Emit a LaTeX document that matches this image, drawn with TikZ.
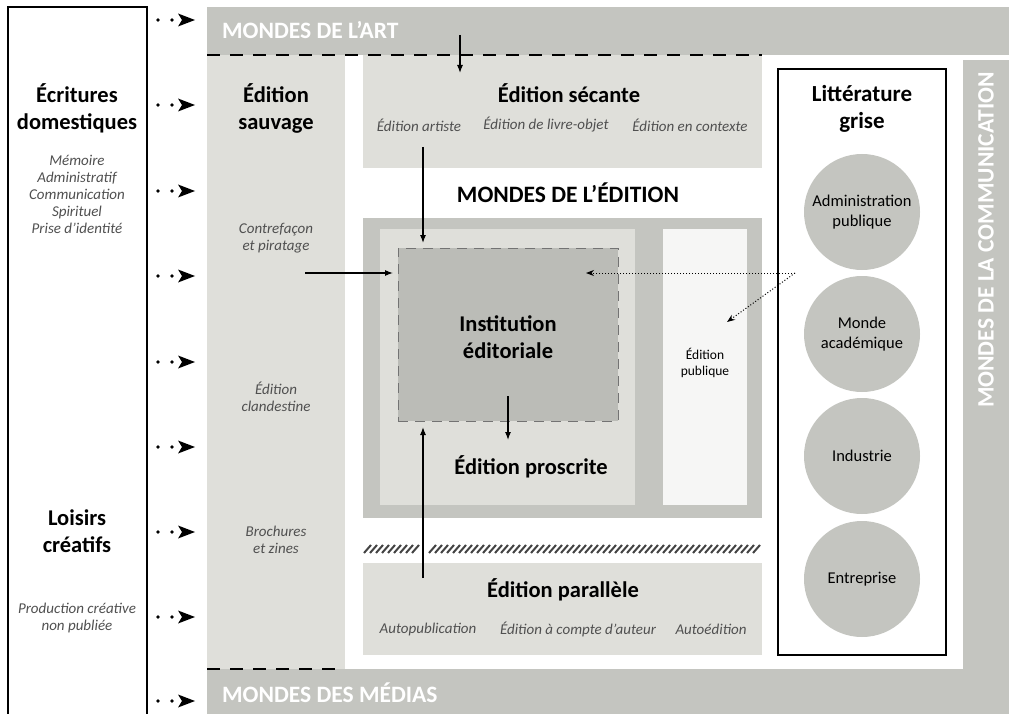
\documentclass[tikz,border=0pt]{standalone}
\usepackage{fontspec}
\setmainfont{Carlito}
\usetikzlibrary{arrows.meta,calc}
\definecolor{band}{HTML}{C4C5C0}
\definecolor{lightg}{HTML}{DFDFDA}
\definecolor{instg}{HTML}{BBBCB7}
\definecolor{pubg}{HTML}{F6F6F5}
\definecolor{italg}{HTML}{505050}
\definecolor{hatchg}{HTML}{444444}
\begin{document}
\begin{tikzpicture}[x=1pt,y=-1pt,
  area/.style={draw=none, inner sep=0pt, outer sep=0pt, anchor=north west},
  bandtxt/.style={text=white, font=\fontsize{23.5}{26}\selectfont\bfseries, inner sep=0pt},
  title/.style={font=\fontsize{22.5}{27}\selectfont\bfseries, align=center, inner sep=0pt},
  sub/.style={font=\fontsize{15}{17}\selectfont\itshape, text=italg, align=center, inner sep=0pt},
  circ/.style={circle, fill=band, minimum size=116pt, inner sep=0pt, align=center, font=\fontsize{16.5}{20}\selectfont},
  arr/.style={draw=black, line width=1.1pt, -{Latex[length=8pt,width=6pt]}},
  dotarr/.style={draw=black, line width=1pt, dash pattern=on 1pt off 2pt, -{Stealth[length=8pt,width=6pt]}},
  worlddash/.style={draw=black, line width=1.6pt, dash pattern=on 13pt off 10pt},
  dotstep/.style={line width=3.8pt, line cap=round, dash pattern=on 0pt off 14pt},
  hatchline/.style={draw=hatchg, line width=2pt}
]
\useasboundingbox (0,0) rectangle (1009,714);
\fill[white] (0,0) rectangle (1009,714);

% world bands
\node[area, fill=band, minimum width=802pt, minimum height=48pt] (art) at (207,7) {};
\node[area, fill=band, minimum width=46pt, minimum height=610pt] (comm) at (963,60) {};
\node[area, fill=band, minimum width=802pt, minimum height=45pt] (medias) at (207,669) {};
\node[bandtxt, anchor=west] (artT) at (222,30) {MONDES DE L’ART};
\node[bandtxt, anchor=west] (mediasT) at (222,693) {MONDES DES MÉDIAS};
\node[bandtxt, rotate=90] (commT) at (986,240) {MONDES DE LA COMMUNICATION};

% areas
\node[area, fill=lightg, minimum width=138pt, minimum height=614pt] (sauvage) at (207,55) {};
\node[area, fill=lightg, minimum width=399pt, minimum height=113pt] (secante) at (363,55) {};
\node[area, fill=band, minimum width=399pt, minimum height=300pt] (edition) at (363,218) {};
\node[area, fill=lightg, minimum width=255pt, minimum height=276pt] (proscrite) at (380,229) {};
\node[area, fill=pubg, minimum width=84pt, minimum height=276pt] (publique) at (663,229) {};
\node[area, fill=instg, draw=black!55, line width=1pt, dash pattern=on 10pt off 7pt, minimum width=220pt, minimum height=173pt] (inst) at (398,248) {};
\node[area, fill=lightg, minimum width=399pt, minimum height=92pt] (parallele) at (363,563) {};
\node[area, draw=black, line width=1.3pt, minimum width=168pt, minimum height=586pt] (lit) at (778,69) {};

\draw[worlddash] (art.south west) -- (762,55);
\draw[worlddash] (medias.north west) -- (345,669);

% left box (runs off the bottom)
\draw[line width=1.5pt] (8,720) -- (8,7) -- (147,7) -- (147,720);

% texts left box
\node[title] (ecritT) at (77,108) {Écritures\\domestiques};
\node[sub] (ecritS) at (77,194) {Mémoire\\Administratif\\Communication\\Spirituel\\Prise d’identité};
\node[title] (loisT) at (77,531) {Loisirs\\créatifs};
\node[sub] (loisS) at (77,618) {Production créative\\non publiée};

% dotted arrows from left box
\foreach \y in {20,105,191,276,362,447,532,617,701}{
  \draw[dotstep] (158,\y) -- (173,\y);
  \fill (178,\y-6.5) -- (195,\y) -- (178,\y+6.5) -- (182,\y) -- cycle;
}

% sauvage texts
\node[title] (sauvT) at (276,108) {Édition\\sauvage};
\node[sub] (sauv1) at (276,238) {Contrefaçon\\et piratage};
\node[sub] (sauv2) at (276,397) {Édition\\clandestine};
\node[sub] (sauv3) at (276,540) {Brochures\\et zines};

% secante texts
\node[title] (secT) at (569,93) {Édition sécante};
\node[sub] (sec1) at (419,125) {Édition artiste};
\node[sub] (sec2) at (546,125) {Édition de livre-objet};
\node[sub] (sec3) at (690,125) {Édition en contexte};

\node[title, font=\fontsize{23.5}{27}\selectfont\bfseries] (mondesEd) at (568,193) {MONDES DE L’ÉDITION};

\node[title] (instT) at (508,337) {Institution\\éditoriale};
\node[title] (prosT) at (531,467) {Édition proscrite};
\node[align=center, inner sep=0pt, font=\fontsize{13.5}{16}\selectfont] (pubT) at (705,363) {Édition\\publique};

% parallele texts
\node[title] (parT) at (563,590) {Édition parallèle};
\node[sub] (par1) at (428,629) {Autopublication};
\node[sub] (par2) at (578,629) {Édition à compte d’auteur};
\node[sub] (par3) at (711,629) {Autoédition};

% hatched strips
\foreach \x in {364,370,...,412}{\draw[hatchline] (\x,553) -- (\x+7,545);}
\foreach \x in {429,435,...,753}{\draw[hatchline] (\x,553) -- (\x+7,545);}

% litterature grise
\node[title, font=\fontsize{23}{27}\selectfont\bfseries] (litT) at (862,109) {Littérature\\grise};
\node[circ] (c1) at (862,212) {Administration\\publique};
\node[circ] (c2) at (862,334) {Monde\\académique};
\node[circ] (c3) at (862,456) {Industrie};
\node[circ] (c4) at (862,579) {Entreprise};

% connectors
\coordinate (a1) at (460,35);
\draw[arr] (a1) -- (a1 |- secante.north) -- ++(0,18);
\coordinate (a2) at (423,147);
\draw[arr, shorten >=5pt] (a2) -- (a2 |- inst.north);
\coordinate (a3) at (305,273);
\draw[arr, shorten >=5pt] (a3) -- (a3 -| inst.west);
\coordinate (a4) at (423,578);
\draw[arr, shorten >=6pt] (a4) -- (a4 |- inst.south);
\coordinate (a5) at (508,396);
\coordinate (a5e) at (508,440);
\draw[arr] (a5) -- (a5e);
\coordinate (lsrc) at (795,273);
\coordinate (ltgt1) at (586,273);
\coordinate (ltgt2) at (727,322);
\draw[dotarr] (lsrc) -- (ltgt1);
\draw[dotarr] (lsrc) -- (ltgt2);
\end{tikzpicture}
\end{document}
